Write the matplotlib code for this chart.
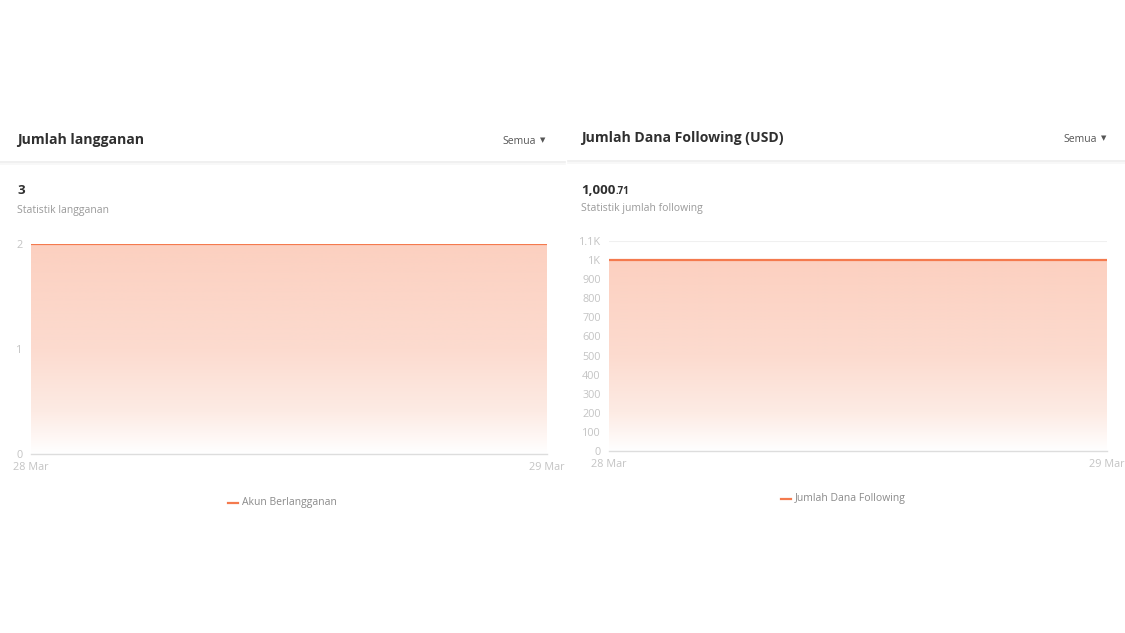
import numpy as np
import matplotlib
matplotlib.use("Agg")
import matplotlib.pyplot as plt
from matplotlib.lines import Line2D
from matplotlib.colors import LinearSegmentedColormap

# ---- data ----
dates = ["28 Mar", "29 Mar"]
subs_values = [2, 2]
funds_values = [1000.71, 1000.71]
subs_yticks = [0, 1, 2]
subs_yticklabels = ["0", "1", "2"]
funds_yticks = [0, 100, 200, 300, 400, 500, 600, 700, 800, 900, 1000, 1100]
funds_yticklabels = ["0", "100", "200", "300", "400", "500", "600", "700", "800", "900", "1K", "1.1K"]

W, H = 1125, 633
plt.rcParams['font.family'] = ['Open Sans', 'DejaVu Sans']
fig = plt.figure(figsize=(W / 100, H / 100), dpi=100)
fig.patch.set_facecolor("white")

LINE = "#f47a4e"
TICK = "#c4c4c4"
cmap = LinearSegmentedColormap.from_list(
    "g", [(0.0, "#ffffff"), (0.2, "#fdebe4"), (0.5, "#fcdbcf"), (1.0, "#fcd0c0")])


def fx(px):
    return px / W


def fy(py):
    return 1 - py / H


def panel(x0, x1, ybot, ytop, ymax, values, yticks, yticklabels, grid_top):
    ax = fig.add_axes([fx(x0), fy(ybot), fx(x1 - x0), fy(ytop) - fy(ybot)])
    xs = np.arange(len(values))
    ax.set_xlim(xs[0], xs[-1])
    ax.set_ylim(0, ymax)
    poly = ax.fill_between(xs, values, 0, color="none", lw=0)
    grad = np.linspace(0, 1, 256).reshape(-1, 1)
    im = ax.imshow(grad, extent=[xs[0], xs[-1], 0, max(values)], origin="lower",
                   aspect="auto", cmap=cmap, zorder=1)
    path = poly.get_paths()[0]
    im.set_clip_path(path, transform=ax.transData)
    ax.plot(xs, values, color=LINE, lw=1.6, zorder=3, solid_capstyle="butt")
    if grid_top:
        ax.axhline(ymax, color="#f0f0f0", lw=0.8, zorder=0)
    for s in ["top", "right", "left"]:
        ax.spines[s].set_visible(False)
    ax.spines["bottom"].set_color("#dddddd")
    ax.spines["bottom"].set_linewidth(1.0)
    ax.set_xticks(xs)
    ax.set_xticklabels(dates)
    ax.set_yticks(yticks)
    ax.set_yticklabels(yticklabels)
    ax.tick_params(axis="both", length=0, colors=TICK, labelsize=7.8)
    ax.tick_params(axis="y", pad=6)
    ax.tick_params(axis="x", pad=6)
    ax.set_facecolor("none")
    return ax


panel(31, 547, 454, 244, 2, subs_values, subs_yticks, subs_yticklabels, False)
panel(609, 1107, 451, 241, 1100, funds_values, funds_yticks, funds_yticklabels, True)

# ---- headers ----
DARK = "#2f2f2f"
GRAY = "#9a9a9a"

fig.text(fx(17), fy(140), "Jumlah langganan", fontsize=10.1, fontweight="bold",
         color=DARK, va="center", ha="left")
fig.text(fx(581), fy(138), "Jumlah Dana Following (USD)", fontsize=10.1, fontweight="bold",
         color=DARK, va="center", ha="left")

for xr, yy in [(536, 141), (1097, 139)]:
    fig.text(fx(xr), fy(yy), "Semua", fontsize=7.5, color="#555555", va="center", ha="right")
    fig.text(fx(xr + 7), fy(yy), "▼", fontsize=5, color="#555555", va="center", ha="center")

for (a, b, yy) in [(0, 565, 162), (568, 1125, 161)]:
    fig.add_artist(Line2D([fx(a), fx(b)], [fy(yy), fy(yy)], color="#ededed", lw=1.2))
    fig.add_artist(Line2D([fx(a), fx(b)], [fy(yy + 1.5), fy(yy + 1.5)], color="#f7f7f7", lw=1.2))

fig.text(fx(17), fy(191), "3", fontsize=9.5, fontweight="bold", color=DARK, va="center", ha="left")
fig.text(fx(17), fy(210), "Statistik langganan", fontsize=7.5, color=GRAY, va="center", ha="left")

t = fig.text(fx(581), fy(190), "1,000", fontsize=9.5, fontweight="bold", color=DARK,
             va="center", ha="left")
fig.canvas.draw()
bb = t.get_window_extent()
fig.text(bb.x1 / W, fy(191), ".71", fontsize=7, fontweight="bold", color=DARK,
         va="center", ha="left")
fig.text(fx(581), fy(208), "Statistik jumlah following", fontsize=7.5, color=GRAY,
         va="center", ha="left")

# ---- legends ----
for (x0, yy, label) in [(228, 503, "Akun Berlangganan"), (781, 499, "Jumlah Dana Following")]:
    fig.add_artist(Line2D([fx(x0), fx(x0 + 10)], [fy(yy), fy(yy)], color=LINE, lw=1.6))
    fig.text(fx(x0 + 14), fy(yy), label, fontsize=7.5, color="#8a8a8a", va="center", ha="left")

fig.savefig("out.png", dpi=100, facecolor="white")
